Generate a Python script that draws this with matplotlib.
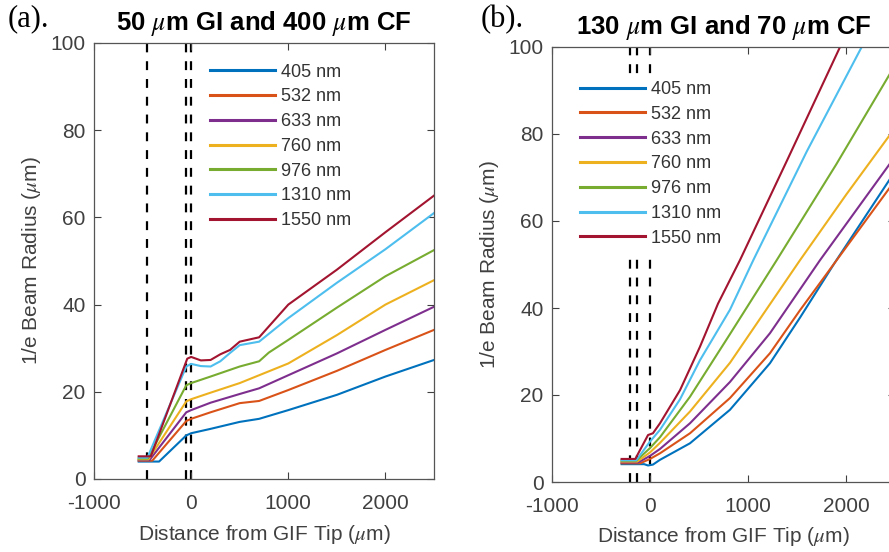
import numpy as np
import matplotlib
matplotlib.use('Agg')
import matplotlib.pyplot as plt

plt.rcParams['font.family'] = ['Liberation Sans', 'DejaVu Sans']
plt.rcParams['mathtext.fontset'] = 'stix'
plt.rcParams['axes.unicode_minus'] = False

# 1. データ
labels = ['405 nm', '532 nm', '633 nm', '760 nm', '976 nm', '1310 nm', '1550 nm']
colors = ['#0072BD', '#D95319', '#7E2F8E', '#EDB120', '#77AC30', '#4DBEEE', '#A2142F']

# (a) 50 um GI + 400 um CF
a_x_405 = [-540, -330, -50, 0, 200, 500, 700, 1000, 1500, 2000, 2500]
a_y_405 = [4.0, 4.0, 10.0, 10.5, 11.5, 13.1, 13.8, 15.8, 19.3, 23.5, 27.3]
a_x_532 = [-540, -400, -50, 0, 200, 500, 700, 1000, 1500, 2000, 2500]
a_y_532 = [4.2, 4.2, 13.3, 13.8, 15.3, 17.4, 17.9, 20.4, 24.8, 29.6, 34.2]
a_x_633 = [-540, -430, -50, 0, 200, 500, 700, 1000, 1500, 2000, 2500]
a_y_633 = [4.3, 4.3, 15.3, 15.8, 17.5, 19.5, 20.8, 23.8, 28.8, 34.2, 39.5]
a_x_760 = [-540, -440, -50, 0, 200, 500, 700, 1000, 1500, 2000, 2500]
a_y_760 = [4.5, 4.5, 17.8, 18.3, 19.8, 22.0, 23.8, 26.5, 33.0, 40.0, 45.6]
a_x_976 = [-540, -445, -50, 0, 200, 500, 700, 800, 1000, 1500, 2000, 2500]
a_y_976 = [4.7, 4.7, 21.5, 22.0, 23.5, 25.8, 27.0, 29.0, 31.9, 39.3, 46.5, 52.5]
a_x_1310 = [-540, -450, -50, 0, 100, 200, 300, 400, 500, 700, 1000, 1500, 2000, 2500]
a_y_1310 = [4.9, 4.9, 25.8, 26.4, 25.9, 25.8, 27.0, 28.9, 30.7, 31.5, 36.9, 45.0, 52.7, 61.0]
a_x_1550 = [-540, -415, -40, 0, 100, 200, 300, 400, 500, 700, 1000, 1500, 2000, 2500]
a_y_1550 = [5.2, 5.2, 27.6, 28.0, 27.2, 27.3, 28.6, 29.6, 31.5, 32.5, 40.0, 48.0, 56.6, 65.0]
a_dash = [-450, -50, 0]

# (b) 130 um GI + 70 um CF
b_x_405 = [-290, -60, -20, 30, 102, 408, 816, 1224, 1531, 1888, 2500]
b_y_405 = [4.1, 4.1, 3.8, 4.0, 5.1, 8.9, 16.6, 27.3, 37.8, 50.5, 71.4]
b_x_532 = [-290, -100, 0, 102, 408, 816, 1224, 1531, 1905, 2500]
b_y_532 = [4.3, 4.3, 5.3, 6.6, 11.2, 19.3, 29.6, 39.5, 51.0, 69.3]
b_x_633 = [-290, -120, 0, 102, 408, 816, 1224, 1735, 2500]
b_y_633 = [4.5, 4.5, 6.0, 7.6, 13.5, 23.0, 34.2, 51.0, 74.8]
b_x_760 = [-290, -130, 0, 102, 408, 816, 1531, 2000, 2500]
b_y_760 = [4.7, 4.7, 6.8, 9.0, 16.2, 27.4, 51.0, 66.0, 81.4]
b_x_976 = [-290, -140, 0, 102, 408, 816, 1293, 1900, 2500]
b_y_976 = [4.9, 4.9, 7.8, 10.3, 19.6, 34.0, 51.0, 73.0, 95.8]
b_x_1310 = [-290, -140, 0, 102, 306, 510, 816, 1054, 1600, 2160]
b_y_1310 = [5.0, 5.0, 9.3, 12.0, 19.0, 28.0, 39.6, 51.0, 76.0, 100.0]
b_x_1550 = [-290, -150, -20, 30, 102, 306, 510, 694, 918, 1400, 1939]
b_y_1550 = [5.3, 5.3, 10.8, 11.2, 13.5, 21.1, 31.1, 41.0, 51.0, 74.0, 100.0]
b_dash = [-200, -130, 0]

a_curves = [(a_x_405, a_y_405), (a_x_532, a_y_532), (a_x_633, a_y_633), (a_x_760, a_y_760),
            (a_x_976, a_y_976), (a_x_1310, a_y_1310), (a_x_1550, a_y_1550)]
b_curves = [(b_x_405, b_y_405), (b_x_532, b_y_532), (b_x_633, b_y_633), (b_x_760, b_y_760),
            (b_x_976, b_y_976), (b_x_1310, b_y_1310), (b_x_1550, b_y_1550)]

# 2. 図の作成
fig = plt.figure(figsize=(8.89, 5.52), dpi=100)
ax_a = fig.add_axes([94 / 889, 73 / 552, 340 / 889, 436 / 552])
ax_b = fig.add_axes([552 / 889, 70 / 552, 343 / 889, 435 / 552])

panels = [
    (ax_a, a_curves, a_dash, r'50 $\mu$m GI and 400 $\mu$m CF', (0.30, 0.986)),
    (ax_b, b_curves, b_dash, r'130 $\mu$m GI and 70 $\mu$m CF', (0.04, 0.955)),
]

for ax, curves, dash, title, leg_pos in panels:
    for (x, y), c, lab in zip(curves, colors, labels):
        ax.plot(x, y, color=c, lw=1.5, label=lab, zorder=2)
    for d in dash:
        ax.axvline(d, color='black', lw=1.6, dashes=(4, 4), zorder=1)

    ax.set_xlim(-1000, 2500)
    ax.set_ylim(0, 100)
    ax.set_xticks([-1000, 0, 1000, 2000])
    ax.set_yticks([0, 20, 40, 60, 80, 100])
    ax.tick_params(direction='in', length=5, width=0.8, top=True, right=True,
                   labelsize=15, colors='#404040', pad=11)
    ax.tick_params(axis='y', pad=6)
    for sp in ax.spines.values():
        sp.set_color('#555555')
        sp.set_linewidth(0.9)

    ax.set_xlabel(r'Distance from GIF Tip ($\mu$m)', fontsize=15, color='#404040')
    ax.set_ylabel(r'1/e Beam Radius ($\mu$m)', fontsize=15, color='#404040')
    ax.xaxis.set_label_coords(0.5, -0.1)
    ax.yaxis.set_label_coords(-0.15, 0.5)
    ax.set_title(title, fontsize=18.5, fontweight='bold', pad=9)

    leg = ax.legend(loc='upper left', bbox_to_anchor=leg_pos, fontsize=13,
                    handlelength=3.6, handletextpad=0.3, labelspacing=0.43,
                    borderpad=0.3, frameon=True, fancybox=False)
    leg.get_frame().set_edgecolor('none')
    leg.get_frame().set_facecolor('white')
    leg.get_frame().set_alpha(1.0)
    for line in leg.get_lines():
        line.set_linewidth(2.2)
    for t in leg.get_texts():
        t.set_color('#333333')

fig.text(8 / 889, 1 - 19 / 552, '(a).', fontsize=22, family='Liberation Serif', va='center')
fig.text(481 / 889, 1 - 20 / 552, '(b).', fontsize=22, family='Liberation Serif', va='center')

plt.savefig('out.png', dpi=100)
